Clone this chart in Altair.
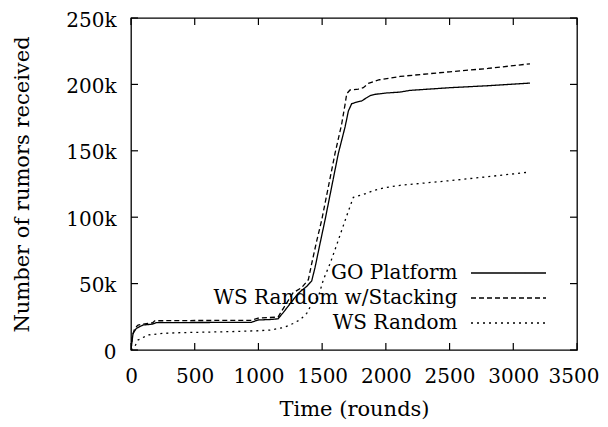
import altair as alt
import pandas as pd

series_names = ["GO Platform", "WS Random w/Stacking", "WS Random"]

go_rounds = [0, 10, 16, 42, 94, 150, 173, 199, 500, 944, 997, 1100, 1154, 1193, 1271, 1313, 1380, 1418,
             1444, 1483, 1523, 1575, 1627, 1680, 1706, 1732, 1784, 1810, 1850, 1876, 1915, 2000, 2111,
             2190, 2500, 2800, 3131]
go_values = [0, 8000, 12500, 16300, 18800, 19300, 19600, 20600, 20700, 20800, 22600, 23000, 23500, 28000,
             37600, 42700, 48000, 52000, 62000, 80000, 98000, 123000, 148000, 168000, 180000, 185500,
             187000, 187500, 190000, 191500, 192500, 193500, 194200, 195500, 197500, 199000, 201000]

wss_rounds = [0, 10, 29, 55, 133, 170, 186, 500, 944, 997, 1154, 1193, 1271, 1340, 1392, 1418, 1457,
              1497, 1549, 1601, 1653, 1680, 1693, 1719, 1784, 1823, 1863, 1950, 2111, 2500, 2800, 3131]
wss_values = [0, 10000, 16300, 18800, 20000, 20500, 22000, 22200, 22300, 24000, 24800, 31000, 43000,
              47000, 53000, 65000, 82000, 98000, 123000, 148000, 170000, 185000, 193000, 195800,
              196500, 197500, 200800, 203500, 206000, 209500, 212000, 215500]

wsr_rounds = [0, 29, 55, 133, 250, 369, 761, 1000, 1091, 1200, 1274, 1330, 1379, 1420, 1470, 1510,
              1562, 1610, 1653, 1700, 1745, 1800, 1850, 1900, 1980, 2111, 2500, 2800, 3131]
wsr_values = [0, 2500, 7500, 11300, 12500, 13000, 13800, 14500, 15000, 17000, 20000, 23000, 27600,
              35000, 40000, 53000, 65000, 78000, 90000, 103000, 115000, 116500, 118000, 120000,
              122000, 124000, 127500, 130500, 134000]

x_ticks = [0, 500, 1000, 1500, 2000, 2500, 3000, 3500]
y_ticks = [0, 50000, 100000, 150000, 200000, 250000]

rows = []
for name, rs, vs in [(series_names[0], go_rounds, go_values),
                     (series_names[1], wss_rounds, wss_values),
                     (series_names[2], wsr_rounds, wsr_values)]:
    for r, v in zip(rs, vs):
        rows.append({"series": name, "round": r, "value": v})
df = pd.DataFrame(rows)

FONT = "DejaVu Serif"
LSIZE = 20
TSIZE = 21
W, H = 446, 332
TICK = 7

xscale = alt.Scale(domain=[0, 3500], nice=False, zero=False)
yscale = alt.Scale(domain=[0, 250000], nice=False, zero=False)

last_x = "datum.value == 3500"

lines = alt.Chart(df).mark_line(color="black", strokeWidth=1.3, clip=True).encode(
    x=alt.X("round:Q", scale=xscale,
            axis=alt.Axis(title="Time (rounds)", values=x_ticks, format="d", grid=False, domain=False,
                          ticks=False, tickSize=0, labelPadding=16, labelFont=FONT, labelFontSize=LSIZE,
                          labelColor="black", titleFont=FONT, titleFontSize=TSIZE, titleColor="black",
                          titleFontWeight="normal", titleX=W / 2, titleY=59, titleBaseline="middle",
                          labelFlush=False, labelOverlap=False,
                          labelAlign={"condition": {"test": last_x, "value": "right"}, "value": "center"},
                          labelOffset={"condition": {"test": last_x, "value": 22}, "value": 0})),
    y=alt.Y("value:Q", scale=yscale,
            axis=alt.Axis(title="Number of rumors received", values=y_ticks, grid=False, domain=False,
                          ticks=False, tickSize=0, labelPadding=15, labelFont=FONT, labelFontSize=LSIZE,
                          labelColor="black", titleFont=FONT, titleFontSize=TSIZE, titleColor="black",
                          titleFontWeight="normal", titleX=-109, titleY=H / 2, titleBaseline="middle",
                          titleAngle=270, labelFlush=False, labelOverlap=False, labelOffset=2,
                          labelExpr="datum.value == 0 ? '0' : (datum.value / 1000) + 'k'")),
    strokeDash=alt.StrokeDash("series:N",
                              scale=alt.Scale(domain=series_names, range=[[1, 0], [5, 3], [2, 4]]),
                              legend=alt.Legend(title=None, orient="none", legendX=367.5, legendY=245,
                                                symbolType="M-5,0H5", symbolSize=225,
                                                symbolStrokeColor="black", symbolStrokeWidth=1.3,
                                                symbolFillColor="transparent",
                                                labelFont=FONT, labelFontSize=LSIZE,
                                                labelColor="black",
                                                labelAlign="right", labelOffset={"expr": "-61"},
                                                labelLimit=400, padding=0, rowPadding=5)),
)

xt = pd.DataFrame({"round": x_ticks})
yt = pd.DataFrame({"value": y_ticks})

bottom_ticks = alt.Chart(xt).mark_rule(color="black", strokeWidth=1.2).encode(
    x=alt.X("round:Q", scale=xscale), y=alt.value(H), y2=alt.value(H - TICK))
top_ticks = alt.Chart(xt).mark_rule(color="black", strokeWidth=1.2).encode(
    x=alt.X("round:Q", scale=xscale), y=alt.value(0), y2=alt.value(TICK))
left_ticks = alt.Chart(yt).mark_rule(color="black", strokeWidth=1.2).encode(
    y=alt.Y("value:Q", scale=yscale), x=alt.value(0), x2=alt.value(TICK))
right_ticks = alt.Chart(yt).mark_rule(color="black", strokeWidth=1.2).encode(
    y=alt.Y("value:Q", scale=yscale), x=alt.value(W), x2=alt.value(W - TICK))

chart = alt.layer(lines, bottom_ticks, top_ticks, left_ticks, right_ticks).properties(
    width=W, height=H,
    padding={"left": 123, "top": 10, "right": 23, "bottom": 70},
    autosize=alt.AutoSizeParams(type="none"),
    background="white",
).configure_view(stroke="black", strokeWidth=1.3)

chart.save("out.html", embed_options={"renderer": "svg", "actions": False})
